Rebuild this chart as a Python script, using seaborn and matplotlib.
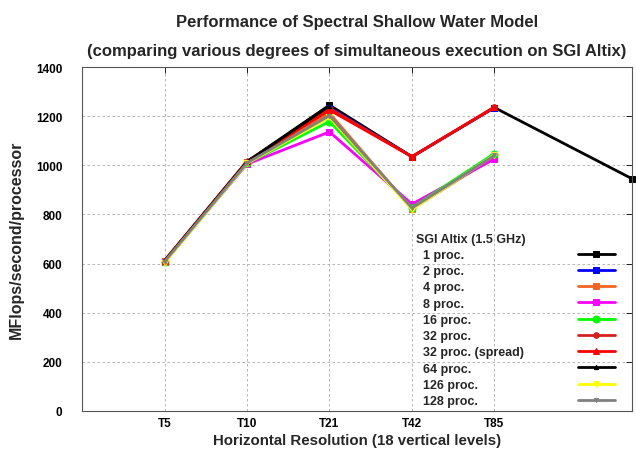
import numpy as np
import pandas as pd
import matplotlib
matplotlib.use("Agg")
import matplotlib.pyplot as plt
import seaborn as sns

# ---- data ----
res_labels = ["T5", "T10", "T21", "T42", "T85", "T170"]
res_pos = [1, 2, 3, 4, 5, 6.67]
tick_labels = ["T5", "T10", "T21", "T42", "T85"]
nan = np.nan
proc_1 = [610, 1015, 1245, 1035, 1235, 945]
proc_2 = [610, 1012, 1235, 1035, 1235, nan]
proc_4 = [612, 1015, 1212, 822, 1035, nan]
proc_8 = [608, 1005, 1136, 842, 1026, nan]
proc_16 = [605, 1008, 1178, 828, 1048, nan]
proc_32 = [610, 1015, 1232, 1035, 1236, nan]
proc_32s = [612, 1016, 1225, 1035, 1237, nan]
proc_64 = [610, 1014, 1242, nan, nan, nan]
proc_126 = [604, 1008, 1195, 820, 1042, nan]
proc_128 = [608, 1010, 1202, 826, 1040, nan]

series_names = ["1 proc.", "2 proc.", "4 proc.", "8 proc.", "16 proc.", "32 proc.",
                "32 proc. (spread)", "64 proc.", "126 proc.", "128 proc."]
series_vals = [proc_1, proc_2, proc_4, proc_8, proc_16, proc_32, proc_32s,
               proc_64, proc_126, proc_128]
colors = ["#000000", "#0000ff", "#f26522", "#ff00ff", "#00ff00", "#d42020",
          "#ff0000", "#000000", "#ffff00", "#808080"]
markers = ["s", "s", "s", "s", "o", "o", "^", "^", "v", "v"]
msizes = [4, 4, 5, 4, 5, 4, 5, 3, 5, 3]

rows = []
for name, vals in zip(series_names, series_vals):
    for lab, p, v in zip(res_labels, res_pos, vals):
        rows.append({"proc": name, "res": lab, "x": p, "mflops": v})
df = pd.DataFrame(rows)

sns.set_theme(style="white")
plt.rcParams["font.family"] = ["Liberation Sans", "DejaVu Sans"]
plt.rcParams["font.weight"] = "bold"

fig = plt.figure(figsize=(6.36, 4.52), dpi=100)
ax = fig.add_axes([0.129, 0.0885, 0.865, 0.761])

for name, col, mk, ms in zip(series_names, colors, markers, msizes):
    sub = df[df["proc"] == name].dropna()
    sns.lineplot(data=sub, x="x", y="mflops", ax=ax, color=col, marker=mk,
                 markersize=ms, markeredgecolor=col, linewidth=2,
                 label=("  " + name), estimator=None, errorbar=None,
                 clip_on=False)

ax.set_xlim(0, res_pos[-1])
ax.set_ylim(0, 1400)
ax.set_xticks(res_pos[:5])
ax.set_xticklabels(tick_labels)
ax.set_yticks(np.arange(0, 1401, 200))
ax.grid(True, color="#aaaaaa", linestyle=(0, (3, 3)), linewidth=0.6)
ax.tick_params(direction="in", top=True, right=True, length=4, width=0.6,
               labelsize=8.5, colors="#000000")
ax.tick_params(axis="x", pad=4)
ax.tick_params(axis="y", pad=14)
for s in ax.spines.values():
    s.set_color("#555555")
    s.set_linewidth(0.8)

ax.set_xlabel("Horizontal Resolution (18 vertical levels)", fontsize=10.8,
              fontweight="bold", labelpad=3)
ax.set_ylabel("MFlops/second/processor", fontsize=11.5, fontweight="bold",
              labelpad=9)
ax.set_title("Performance of Spectral Shallow Water Model\n"
             "(comparing various degrees of simultaneous execution on SGI Altix)",
             fontsize=12, fontweight="bold", linespacing=2.15, pad=9)

leg = ax.legend(title="SGI Altix (1.5 GHz)", loc="lower right",
                bbox_to_anchor=(0.985, -0.0145), frameon=False, markerfirst=False,
                fontsize=9, title_fontsize=9, alignment="left",
                handlelength=3.0, labelspacing=0.34, borderpad=0.2,
                handletextpad=0.5)
leg.get_title().set_fontweight("bold")
# put samples in an aligned right-hand column (gnuplot style key)
fig.canvas.draw()
for col in leg._legend_handle_box.get_children():
    for row in col.get_children():
        row.mode = "expand"
        row.width = 199
fig.savefig("out.png", dpi=100)
